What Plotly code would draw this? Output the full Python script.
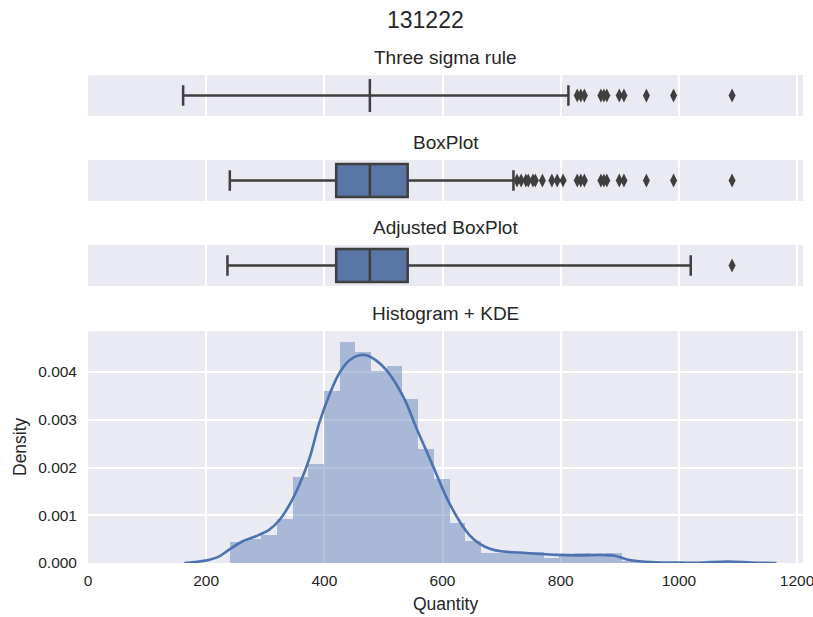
import plotly.graph_objects as go

# ---------------- data ----------------
main_title = "131222"
panel_titles = ["Three sigma rule", "BoxPlot", "Adjusted BoxPlot", "Histogram + KDE"]

median_q = 477
q1_q = 420
q3_q = 541
sigma_low = 161
sigma_high = 813
box_low = 240
box_high = 720
adj_low = 236
adj_high = 1020

high_values = [726, 733, 741, 745, 753, 757, 769, 785, 794, 804,
               828, 834, 840, 868, 873, 878, 899, 907, 945, 991, 1090]

hist_start = 240
hist_bin_width = 26.56
hist_density = [0.00043, 0.00050, 0.00058, 0.00092, 0.00181, 0.00207, 0.00361,
                0.00462, 0.00443, 0.00402, 0.00412, 0.00344, 0.00239, 0.00175,
                0.00084, 0.00047, 0.00022, 0.00020, 0.00020, 0.00024, 0.00011,
                0.00015, 0.00020, 0.00018, 0.00020, 0.00005, 0.00005, 0.0,
                0.00005, 0.0, 0.0, 0.00005]

kde_x = [163, 180, 199, 222, 239, 261, 284, 307, 324, 341, 358, 375, 391, 408,
         425, 442, 459, 471, 488, 505, 521, 538, 555, 572, 589, 606, 629, 646,
         663, 680, 702, 730, 764, 793, 833, 868, 891, 914, 938, 972, 1030, 1083,
         1123, 1165]
kde_y = [0.00000, 0.00002, 0.00005, 0.00014, 0.00028, 0.00045, 0.00056, 0.00070,
         0.00090, 0.00122, 0.00165, 0.00220, 0.00292, 0.00351, 0.00397, 0.00424,
         0.00435, 0.00435, 0.00424, 0.00404, 0.00376, 0.00337, 0.00285, 0.00237,
         0.00188, 0.00139, 0.00087, 0.00058, 0.00040, 0.00030, 0.00024, 0.00022,
         0.00019, 0.00017, 0.00016, 0.00017, 0.00015, 0.00007, 0.00003, 0.00001,
         0.000005, 0.00003, 0.00001, 0.0]

x_range = [0, 1210]
x_ticks = [0, 200, 400, 600, 800, 1000, 1200]
y_ticks = [0.0, 0.001, 0.002, 0.003, 0.004]
y_ticklabels = ["0.000", "0.001", "0.002", "0.003", "0.004"]
x_label = "Quantity"
y_label = "Density"

# ---------------- style ----------------
BG = "#EAEAF2"
TXT = "#262626"
BOXFILL = "#5875A4"
EDGE = "#3F3F3F"
BLUE = "#4C72B0"
FONT = "Liberation Sans, Arial, sans-serif"

W, H = 813, 617
ML, MR, MT, MB = 88, 10, 75, 54
PH = H - MT - MB

def ydom(top_px, bot_px):
    return [(H - MB - bot_px) / PH, (H - MB - top_px) / PH]

domains = [ydom(75, 116), ydom(160, 201), ydom(245, 286), ydom(331, 563)]

fig = go.Figure()

box_specs = [
    (sigma_low, median_q, median_q, median_q, sigma_high),
    (box_low, q1_q, median_q, q3_q, box_high),
    (adj_low, q1_q, median_q, q3_q, adj_high),
]

for i, (lo, a, m, b, hi) in enumerate(box_specs):
    xa = "x" if i == 0 else f"x{i+1}"
    ya = "y" if i == 0 else f"y{i+1}"
    fig.add_trace(go.Box(
        orientation="h", y=[0], q1=[a], median=[m], q3=[b],
        lowerfence=[lo], upperfence=[hi], width=0.8, whiskerwidth=0.62,
        fillcolor=BOXFILL, line=dict(color=EDGE, width=2.5), boxpoints=False,
        xaxis=xa, yaxis=ya, showlegend=False, hoverinfo="skip"))
    outs = [v for v in high_values if v > hi] + [v for v in high_values if v < lo]
    fig.add_trace(go.Scatter(
        x=outs, y=[0] * len(outs), mode="markers",
        marker=dict(symbol="diamond-tall", size=10, color=EDGE,
                    line=dict(width=0)),
        xaxis=xa, yaxis=ya, showlegend=False, hoverinfo="skip"))

centers = [hist_start + hist_bin_width * (k + 0.5) for k in range(len(hist_density))]
fig.add_trace(go.Bar(
    x=centers, y=hist_density, width=hist_bin_width,
    marker=dict(color="rgba(76,114,176,0.42)", line=dict(width=0)),
    xaxis="x4", yaxis="y4", showlegend=False, hoverinfo="skip"))
fig.add_trace(go.Scatter(
    x=kde_x, y=kde_y, mode="lines", line=dict(color=BLUE, width=2.6, shape="spline"),
    xaxis="x4", yaxis="y4", showlegend=False, hoverinfo="skip"))

layout = dict(
    width=W, height=H,
    margin=dict(l=ML, r=MR, t=MT, b=MB, pad=0, autoexpand=False),
    paper_bgcolor="white", plot_bgcolor=BG, bargap=0,
    font=dict(family=FONT, color=TXT, size=15.5),
)

for i in range(4):
    xk = "xaxis" if i == 0 else f"xaxis{i+1}"
    yk = "yaxis" if i == 0 else f"yaxis{i+1}"
    yref = "y" if i == 0 else f"y{i+1}"
    xref = "x" if i == 0 else f"x{i+1}"
    layout[xk] = dict(domain=[0, 1], range=x_range, anchor=yref,
                      tickvals=x_ticks, showticklabels=(i == 3),
                      showgrid=True, gridcolor="white", gridwidth=1.6,
                      zeroline=False, showline=False, ticks="",
                      ticklabelstandoff=6, ticklabeloverflow="allow",
                      automargin=False,
                      tickfont=dict(size=15.5, color=TXT, family=FONT))
    if i < 3:
        layout[yk] = dict(domain=domains[i], range=[-0.5, 0.5], anchor=xref,
                          showticklabels=False, showgrid=False, zeroline=False,
                          showline=False, ticks="", automargin=False)
    else:
        layout[yk] = dict(domain=domains[i], range=[0, 0.00486], anchor=xref,
                          tickvals=y_ticks, ticktext=y_ticklabels,
                          showgrid=True, gridcolor="white", gridwidth=1.6,
                          zeroline=False, showline=False, ticks="",
                          ticklabelstandoff=10, automargin=False,
                          tickfont=dict(size=15.5, color=TXT, family=FONT))

fig.update_layout(**layout)

annots = []
for i, t in enumerate(panel_titles):
    annots.append(dict(text=t, xref="paper", yref="paper", x=0.5, y=domains[i][1],
                       xanchor="center", yanchor="bottom", yshift=5,
                       showarrow=False, font=dict(size=19, color=TXT, family=FONT)))
annots.append(dict(text=main_title, xref="paper", yref="paper",
                   x=(425 - ML) / (W - ML - MR), y=1 + (MT - 20) / PH,
                   xanchor="center", yanchor="middle", showarrow=False,
                   font=dict(size=23, color=TXT, family=FONT)))
annots.append(dict(text=x_label, xref="paper", yref="paper", x=0.5,
                   y=(H - MB - 604) / PH, xanchor="center", yanchor="middle",
                   showarrow=False, font=dict(size=17.5, color=TXT, family=FONT)))
annots.append(dict(text=y_label, xref="paper", yref="paper",
                   x=(20 - ML) / (W - ML - MR), y=(H - MB - 447) / PH,
                   xanchor="center", yanchor="middle", textangle=-90,
                   showarrow=False, font=dict(size=17.5, color=TXT, family=FONT)))
fig.update_layout(annotations=annots)

fig.write_html("out.html")
